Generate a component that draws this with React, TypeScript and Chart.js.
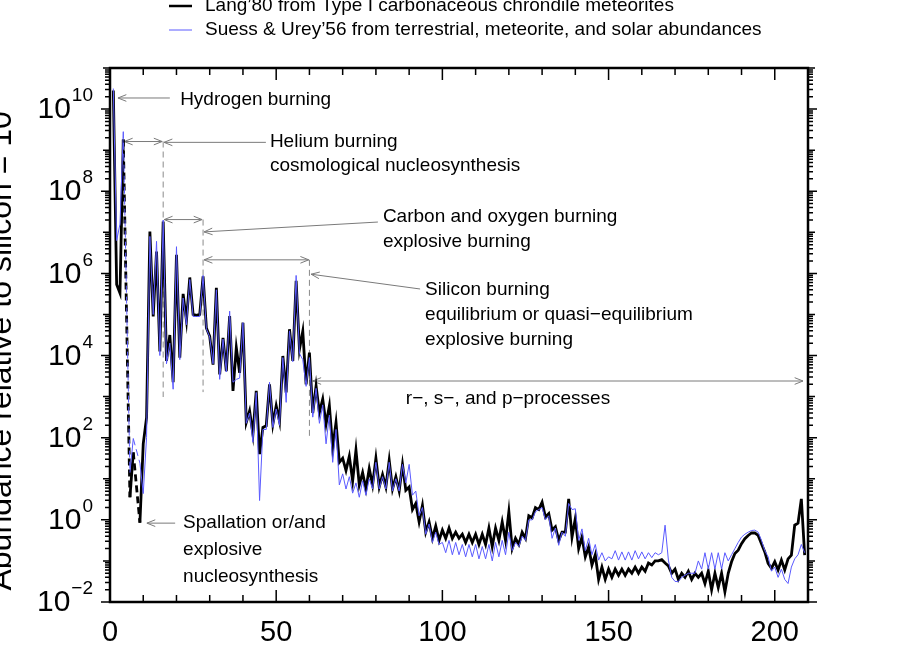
import React, { useEffect, useRef } from "react";
import { Chart, registerables } from "chart.js";

Chart.register(...registerables);

// Mass number A = 1 .. 209
const massNumbers: number[] = Array.from({ length: 209 }, (_, i) => i + 1);

// log10 of abundance relative to Si = 1e6 — Lang'80 (black)
const langLog: (number | null)[] = [
  10.45, 5.73, 5.52, 9.26, null, 0.55, 1.64, null, -0.07, 1.85,
  2.49, 7.02, 4.95, 6.53, 4.1, 7.26, 3.87, 4.5, 3.35, 6.45,
  3.95, 5.5, 4.85, 5.9, 5.0, 4.98, 5.0, 5.93, 4.67, 4.47,
  3.78, 5.65, 3.54, 4.43, 3.62, 4.96, 3.14, 4.19, 3.58, 4.8,
  2.37, 2.65, 2.09, 3.14, 1.6, 2.25, 2.29, 3.3, 2.33, 2.78,
  2.4, 3.99, 3.1, 4.64, 3.87, 5.82, 4.15, 4.59, 3.3, 4.07,
  2.6, 3.26, 2.61, 2.94, 2.33, 2.78, 1.75, 2.37, 1.4, 1.5,
  1.2, 1.55, 0.95, 1.7, 0.85, 1.15, 0.75, 1.25, 0.85, 1.5,
  0.8, 1.1, 0.8, 1.45, 0.75, 1.05, 0.7, 1.35, 0.72, 0.8,
  0.25, 0.4, -0.05, 0.35, -0.3, -0.05, -0.45, -0.15, -0.5, -0.25,
  -0.45, -0.2, -0.45, -0.3, -0.45, -0.35, -0.55, -0.35, -0.55, -0.35,
  -0.6, -0.35, -0.6, -0.2, -0.65, -0.2, -0.5, -0.05, -0.5, 0.2,
  -0.7, -0.45, -0.6, -0.3, -0.45, 0.1, 0.05, 0.3, 0.25, 0.43,
  0.07, 0.15, -0.25, -0.17, -0.5, -0.3, -0.3, 0.51, -0.42, 0.03,
  -0.7, -0.42, -0.9, -0.66, -1.1, -0.85, -1.45, -1.15, -1.45, -1.2,
  -1.4, -1.2, -1.35, -1.2, -1.35, -1.2, -1.3, -1.15, -1.3, -1.15,
  -1.25, -1.05, -1.1, -1.0, -1.0, -0.97, -1.05, -1.12, -1.3, -1.2,
  -1.45, -1.3, -1.4, -1.25, -1.45, -1.3, -1.4, -1.3, -1.55, -1.25,
  -1.7, -1.3, -1.65, -1.3, -1.75, -1.3, -1.02, -0.82, -0.74, -0.58,
  -0.46, -0.38, -0.32, -0.32, -0.38, -0.58, -0.78, -1.06, -1.18, -1.02,
  -1.22, -0.98, -1.22, -0.95, -0.86, -0.13, -0.08, 0.51, -0.86,
];

// log10 of abundance relative to Si = 1e6 — Suess & Urey'56 (blue)
const suessLog: (number | null)[] = [
  10.5, 6.8, 7.2, 9.45, null, 1.15, 1.98, null, 1.38, 0.64,
  2.0, 6.9, 5.0, 6.78, 4.0, 7.3, 3.8, 4.3, 3.18, 6.65,
  3.9, 5.4, 4.75, 5.85, 4.95, 4.95, 4.95, 5.95, 4.65, 4.45,
  3.8, 5.6, 3.42, 4.4, 3.6, 5.08, 3.35, 3.42, 3.45, 4.8,
  2.35, 2.6, 1.89, 3.1, 0.47, 2.2, 2.2, 3.35, 2.25, 2.7,
  2.3, 3.95, 2.86, 4.6, 3.85, 5.95, 4.05, 3.9, 3.25, 3.95,
  2.5, 3.2, 2.35, 2.8, 1.85, 2.55, 1.4, 2.2, 0.85, 1.12,
  0.75, 1.05, 0.65, 0.9, 0.55, 0.95, 0.6, 1.0, 0.75, 1.4,
  0.75, 1.05, 0.75, 1.4, 0.7, 1.0, 0.7, 1.35, 0.9, 1.35,
  0.6, 0.7, 0.1, 0.3, -0.35, -0.1, -0.55, -0.3, -0.6, -0.55,
  -0.8, -0.5, -0.85, -0.55, -0.85, -0.6, -0.9, -0.6, -0.9, -0.6,
  -0.95, -0.65, -0.95, -0.6, -1.0, -0.55, -0.9, -0.5, -0.85, -0.3,
  -0.75, -0.55, -0.65, -0.4, -0.5, 0.0, 0.0, 0.2, 0.25, 0.3,
  0.0, 0.1, -0.45, -0.2, -0.62, -0.3, -0.4, 0.4, 0.25, 0.27,
  -0.5, -0.22, -0.75, -0.45, -0.85, -0.6, -0.98, -0.8, -1.0, -0.9,
  -0.95, -0.75, -0.98, -0.78, -0.98, -0.78, -0.98, -0.75, -0.95, -0.78,
  -0.95, -0.8, -0.92, -0.8, -0.85, -0.8, -0.13, -0.98, -1.4, -1.5,
  -1.5, -1.4, -1.35, -1.3, -1.3, -1.3, -1.0, -1.2, -0.8, -1.2,
  -0.8, -1.2, -0.8, -1.2, -0.8, -1.0, -0.85, -0.7, -0.55, -0.42,
  -0.35, -0.3, -0.26, -0.25, -0.3, -0.5, -0.75, -0.9, -1.25, -1.15,
  -1.4, -1.2, -1.45, -1.55, -1.15, -0.95, -0.85, -0.6, -0.8,
];

const seriesLabels = [
  "Lang\u201980 from Type I carbonaceous chrondile meteorites",
  "Suess & Urey\u201956 from terrestrial, meteorite, and solar abundances",
];

const xTickLabels = [0, 50, 100, 150, 200];
const yTickExponents = [-2, 0, 2, 4, 6, 8, 10];
const yTitle = "Abundance relative to silicon = 10";
const yTitleExp = "6";

// Annotations in data coordinates: [A, log10(abundance)]
const annotationTexts = [
  { text: "Hydrogen burning", at: [21.1, 10.22] },
  { text: "Helium burning", at: [48.1, 9.2] },
  { text: "cosmological nucleosynthesis", at: [48.1, 8.61] },
  { text: "Carbon and oxygen burning", at: [82.1, 7.37] },
  { text: "explosive burning", at: [82.1, 6.76] },
  { text: "Silicon burning", at: [94.8, 5.6] },
  { text: "equilibrium or quasi\u2212equilibrium", at: [94.8, 4.99] },
  { text: "explosive burning", at: [94.8, 4.38] },
  { text: "r\u2212, s\u2212, and p\u2212processes", at: [89.0, 2.94] },
  { text: "Spallation or/and", at: [22.0, -0.08] },
  { text: "explosive", at: [22.0, -0.73] },
  { text: "nucleosynthesis", at: [22.0, -1.39] },
];
const singleArrows = [
  { from: [18.0, 10.27], to: [2.4, 10.27] },
  { from: [46.9, 9.19], to: [16.25, 9.19] },
  { from: [80.6, 7.25], to: [28.3, 7.01] },
  { from: [93.3, 5.62], to: [60.5, 5.98] },
  { from: [19.6, -0.08], to: [11.1, -0.08] },
];
const doubleArrows = [
  { a1: 4.3, a2: 15.7, lg: 9.21 },
  { a1: 16.3, a2: 27.7, lg: 7.31 },
  { a1: 28.3, a2: 59.8, lg: 6.33 },
  { a1: 61.0, a2: 208.5, lg: 3.38 },
];
const dashedGuides = [
  { a: 16, top: 9.21, bottom: 2.99 },
  { a: 28, top: 7.31, bottom: 3.11 },
  { a: 60, top: 6.33, bottom: 2.02 },
];

const FONT = "'Liberation Sans', Arial, Helvetica, sans-serif";

function toPoints(logs: (number | null)[]) {
  const pts: { x: number; y: number }[] = [];
  logs.forEach((v, i) => {
    if (v !== null) pts.push({ x: massNumbers[i], y: Math.pow(10, v) });
  });
  return pts;
}

const gapDash = (ctx: any) =>
  ctx.p1.parsed.x - ctx.p0.parsed.x > 1 ? [7, 4] : undefined;

function arrowHead(ctx: CanvasRenderingContext2D, tx: number, ty: number, fx: number, fy: number) {
  const ang = Math.atan2(ty - fy, tx - fx);
  const len = 9;
  const spread = 0.38;
  ctx.beginPath();
  ctx.moveTo(tx - len * Math.cos(ang - spread), ty - len * Math.sin(ang - spread));
  ctx.lineTo(tx, ty);
  ctx.lineTo(tx - len * Math.cos(ang + spread), ty - len * Math.sin(ang + spread));
  ctx.stroke();
}

const decorPlugin = {
  id: "decor",
  beforeDatasetsDraw(chart: any) {
    const ctx: CanvasRenderingContext2D = chart.ctx;
    const xs = chart.scales.x;
    const ys = chart.scales.y;
    const P = (a: number, lg: number) => [xs.getPixelForValue(a), ys.getPixelForValue(Math.pow(10, lg))];
    ctx.save();
    ctx.strokeStyle = "#8a8a8a";
    ctx.lineWidth = 1;
    ctx.setLineDash([6, 4]);
    dashedGuides.forEach((g) => {
      const [x, y1] = P(g.a, g.top);
      const [, y2] = P(g.a, g.bottom);
      ctx.beginPath();
      ctx.moveTo(x, y1);
      ctx.lineTo(x, y2);
      ctx.stroke();
    });
    ctx.setLineDash([]);
    ctx.strokeStyle = "#7a7a7a";
    singleArrows.forEach((s) => {
      const [x1, y1] = P(s.from[0], s.from[1]);
      const [x2, y2] = P(s.to[0], s.to[1]);
      ctx.beginPath();
      ctx.moveTo(x1, y1);
      ctx.lineTo(x2, y2);
      ctx.stroke();
      arrowHead(ctx, x2, y2, x1, y1);
    });
    doubleArrows.forEach((d) => {
      const [x1, y] = P(d.a1, d.lg);
      const [x2] = P(d.a2, d.lg);
      ctx.beginPath();
      ctx.moveTo(x1, y);
      ctx.lineTo(x2, y);
      ctx.stroke();
      arrowHead(ctx, x1, y, x2, y);
      arrowHead(ctx, x2, y, x1, y);
    });
    ctx.restore();
  },
  afterDraw(chart: any) {
    const ctx: CanvasRenderingContext2D = chart.ctx;
    const xs = chart.scales.x;
    const ys = chart.scales.y;
    const { left, right, top, bottom } = chart.chartArea;
    const P = (a: number, lg: number) => [xs.getPixelForValue(a), ys.getPixelForValue(Math.pow(10, lg))];
    ctx.save();

    // annotation texts
    ctx.fillStyle = "#000";
    ctx.font = `19px ${FONT}`;
    ctx.textAlign = "left";
    ctx.textBaseline = "middle";
    annotationTexts.forEach((t) => {
      const [x, y] = P(t.at[0], t.at[1]);
      ctx.fillText(t.text, x, y);
    });

    // frame
    ctx.strokeStyle = "#000";
    ctx.lineWidth = 2.5;
    ctx.strokeRect(left, top, right - left, bottom - top);

    // x ticks (inward, bottom and top)
    ctx.lineWidth = 1.5;
    for (let a = 0; a <= 210; a += 10) {
      const x = xs.getPixelForValue(a);
      const len = a % 50 === 0 ? 12 : 7;
      ctx.beginPath();
      ctx.moveTo(x, bottom);
      ctx.lineTo(x, bottom - len);
      ctx.moveTo(x, top);
      ctx.lineTo(x, top + len);
      ctx.stroke();
    }
    // y ticks (outward, left and right)
    for (let e = -2; e <= 11; e++) {
      for (let m = 1; m <= 9; m++) {
        const v = m * Math.pow(10, e);
        if (v > 1e11 * 1.0001) break;
        const y = ys.getPixelForValue(v);
        const len = m === 1 ? (e % 2 === 0 ? 9 : 7) : 5;
        ctx.beginPath();
        ctx.moveTo(left, y);
        ctx.lineTo(left - len, y);
        ctx.moveTo(right, y);
        ctx.lineTo(right + len, y);
        ctx.stroke();
      }
    }

    // x tick labels
    ctx.fillStyle = "#000";
    ctx.font = `29px ${FONT}`;
    ctx.textAlign = "center";
    ctx.textBaseline = "middle";
    xTickLabels.forEach((a) => {
      ctx.fillText(String(a), xs.getPixelForValue(a), bottom + 31);
    });

    // y tick labels 10^n
    yTickExponents.forEach((e) => {
      const y = ys.getPixelForValue(Math.pow(10, e));
      const expStr = e < 0 ? "\u2212" + Math.abs(e) : String(e);
      ctx.font = `19px ${FONT}`;
      ctx.textAlign = "right";
      ctx.textBaseline = "middle";
      const expRight = left - 17;
      ctx.fillText(expStr, expRight, y - 13);
      const ew = ctx.measureText(expStr).width;
      ctx.font = `30px ${FONT}`;
      ctx.fillText("10", expRight - ew - 1, y + 1);
    });

    // y-axis title (rotated, partly off-canvas)
    ctx.save();
    const cy = 345;
    ctx.translate(11, cy);
    ctx.rotate(-Math.PI / 2);
    ctx.font = `32px ${FONT}`;
    ctx.textBaseline = "alphabetic";
    ctx.textAlign = "left";
    const w1 = ctx.measureText(yTitle).width;
    ctx.font = `21px ${FONT}`;
    const w2 = ctx.measureText(yTitleExp).width;
    const startX = -(w1 + w2) / 2;
    ctx.font = `32px ${FONT}`;
    ctx.fillText(yTitle, startX, 0);
    ctx.font = `21px ${FONT}`;
    ctx.fillText(yTitleExp, startX + w1 + 1, -13);
    ctx.restore();

    // legend
    const legendRows = [
      { y: 6, color: "#000", width: 2.5 },
      { y: 30, color: "#5a5aff", width: 1 },
    ];
    ctx.font = `19px ${FONT}`;
    ctx.textAlign = "left";
    ctx.textBaseline = "middle";
    legendRows.forEach((r, i) => {
      ctx.strokeStyle = r.color;
      ctx.lineWidth = r.width;
      ctx.beginPath();
      ctx.moveTo(169, r.y);
      ctx.lineTo(192, r.y);
      ctx.stroke();
      ctx.fillStyle = "#000";
      ctx.fillText(seriesLabels[i], 205, r.y);
    });

    ctx.restore();
  },
};

export default function App() {
  const canvasRef = useRef<HTMLCanvasElement | null>(null);

  useEffect(() => {
    if (!canvasRef.current) return;
    const chart = new Chart(canvasRef.current, {
      type: "line",
      data: {
        datasets: [
          {
            label: seriesLabels[1],
            data: toPoints(suessLog),
            borderColor: "#5a5aff",
            borderWidth: 1,
            pointRadius: 0,
            tension: 0,
            order: 1,
            segment: { borderDash: gapDash },
          },
          {
            label: seriesLabels[0],
            data: toPoints(langLog),
            borderColor: "#000000",
            borderWidth: 2.8,
            pointRadius: 0,
            tension: 0,
            order: 2,
            segment: { borderDash: gapDash },
          },
        ],
      },
      options: {
        animation: false,
        responsive: true,
        maintainAspectRatio: false,
        layout: { padding: { left: 110, right: 111, top: 68, bottom: 52 } },
        scales: {
          x: { type: "linear", min: 0, max: 210, display: false },
          y: { type: "logarithmic", min: 1e-2, max: 1e11, display: false },
        },
        plugins: {
          legend: { display: false },
          tooltip: { enabled: false },
          title: { display: false },
        },
      },
      plugins: [decorPlugin],
    } as any);
    return () => chart.destroy();
  }, []);

  return (
    <div
      style={{
        position: "absolute",
        left: 0,
        top: 0,
        width: 919,
        height: 654,
        background: "#fff",
      }}
    >
      <canvas ref={canvasRef} />
    </div>
  );
}
